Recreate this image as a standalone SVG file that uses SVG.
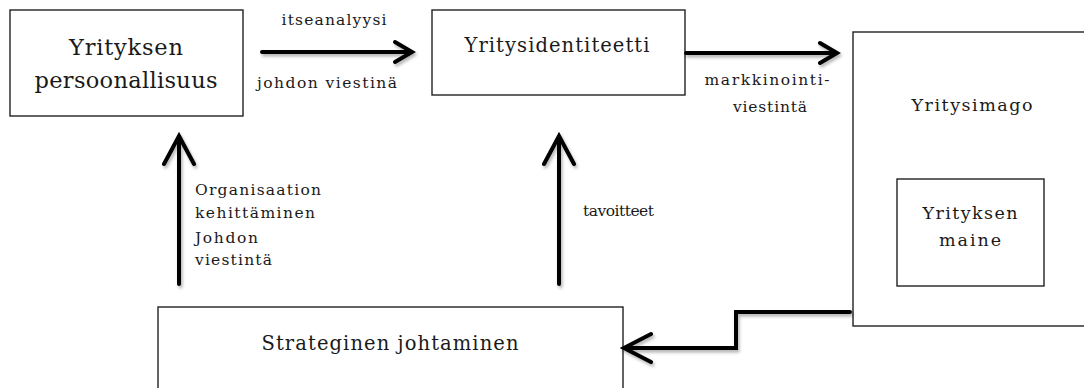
<svg xmlns="http://www.w3.org/2000/svg" width="1084" height="388" viewBox="0 0 1084 388">
<style>
.box{fill:#fff;stroke:#222;stroke-width:1.4}
.t{font-family:"DejaVu Serif","Liberation Serif",serif;fill:#1a1a1a}
.big{font-size:22.5px}
.mid{font-size:19.5px}
.sm{font-size:17.5px}
.lab{font-size:15.5px}
.c{text-anchor:middle}
.arr{fill:none;stroke:#000;stroke-width:4;stroke-linecap:round;stroke-linejoin:miter}
</style>
<defs>
<filter id="sh" x="-20%" y="-20%" width="140%" height="140%">
<feDropShadow dx="1.5" dy="2.5" stdDeviation="1.6" flood-color="#000" flood-opacity="0.3"/>
</filter>
</defs>
<rect width="1084" height="388" fill="#fff"/>
<g id="persoonallisuus">
<rect class="box" x="10" y="10" width="233" height="106"/>
<text class="t big c" x="126" y="55" textLength="114" lengthAdjust="spacing">Yrityksen</text>
<text class="t big c" x="126" y="88" textLength="183" lengthAdjust="spacing">persoonallisuus</text>
</g>
<g id="identiteetti">
<rect class="box" x="432" y="10" width="253" height="85"/>
<text class="t mid c" x="557" y="52" textLength="185" lengthAdjust="spacing">Yritysidentiteetti</text>
</g>
<g id="imago">
<rect class="box" x="853" y="32" width="240" height="294"/>
<text class="t sm c" x="972" y="111" textLength="121" lengthAdjust="spacing">Yritysimago</text>
</g>
<g id="maine">
<rect class="box" x="897" y="179" width="147" height="107"/>
<text class="t sm c" x="970" y="219" textLength="95" lengthAdjust="spacing">Yrityksen</text>
<text class="t sm c" x="970" y="246" textLength="62" lengthAdjust="spacing">maine</text>
</g>
<g id="strateginen">
<rect class="box" x="158" y="307" width="465" height="100"/>
<text class="t mid c" x="390" y="350" textLength="257" lengthAdjust="spacing">Strateginen johtaminen</text>
</g>
<g id="connectors" filter="url(#sh)">
<path class="arr" d="M262 52 H411 M395 42 L412 52 L395 62"/>
<path class="arr" d="M686 53 H836 M820 43 L837 53 L820 63"/>
<path class="arr" d="M179 284 V137 M164 164 L179 136 L194 164"/>
<path class="arr" d="M559 284 V137 M544 164 L559 136 L574 164"/>
<path class="arr" d="M850 312 H736 V348 H626 M651 334 L624 348 L651 362"/>
</g>
<g id="labels">
<text class="t lab c" x="334" y="25" textLength="105" lengthAdjust="spacing">itseanalyysi</text>
<text class="t lab c" x="327" y="88" textLength="140" lengthAdjust="spacing">johdon viestinä</text>
<text class="t lab c" x="767" y="85" textLength="125" lengthAdjust="spacing">markkinointi-</text>
<text class="t lab c" x="770" y="112" textLength="74" lengthAdjust="spacing">viestintä</text>
<text class="t lab" x="195" y="195" textLength="126" lengthAdjust="spacing">Organisaation</text>
<text class="t lab" x="195" y="218" textLength="120" lengthAdjust="spacing">kehittäminen</text>
<text class="t lab" x="195" y="243" textLength="63" lengthAdjust="spacing">Johdon</text>
<text class="t lab" x="195" y="265" textLength="77" lengthAdjust="spacing">viestintä</text>
<text class="t lab" x="583" y="216" textLength="71" lengthAdjust="spacing">tavoitteet</text>
</g>
</svg>
